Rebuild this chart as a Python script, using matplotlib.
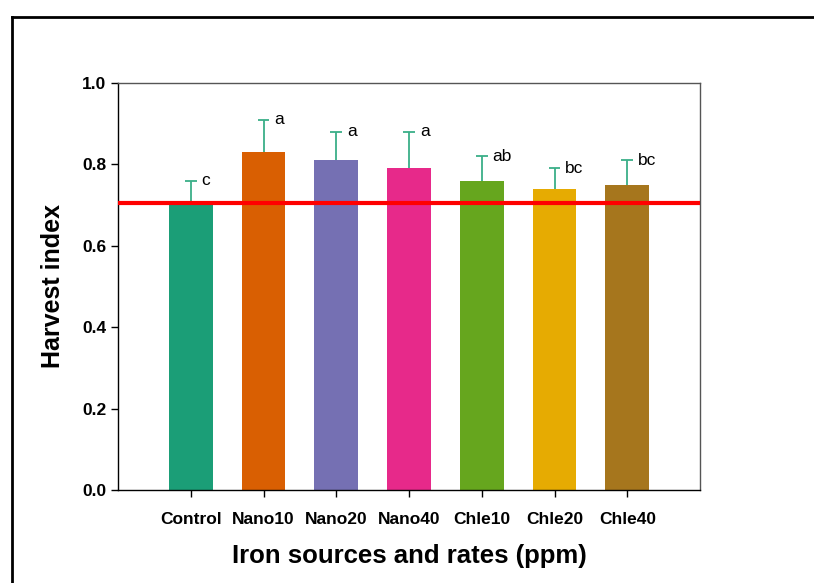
import matplotlib
matplotlib.use("Agg")
import matplotlib.pyplot as plt
from matplotlib.lines import Line2D

plt.rcParams["font.family"] = ["Liberation Sans", "DejaVu Sans"]

# data
treatments = ["Control", "Nano10", "Nano20", "Nano40", "Chle10", "Chle20", "Chle40"]
harvest_index = [0.71, 0.83, 0.81, 0.79, 0.76, 0.74, 0.75]
errors = [0.05, 0.08, 0.07, 0.09, 0.06, 0.05, 0.06]
letters = ["c", "a", "a", "a", "ab", "bc", "bc"]
bar_colors = ["#1b9e77", "#d95f02", "#7570b3", "#e7298a", "#66a61e", "#e6ab02", "#a6761d"]
ref_line = 0.705

fig = plt.figure(figsize=(8.14, 5.83), dpi=100)
ax = fig.add_axes([118 / 814, 1 - 490 / 583, 582 / 814, 407 / 583])

x = list(range(len(treatments)))
ax.bar(x, harvest_index, width=0.6, color=bar_colors, zorder=2)

# upper error bars only, cap only on top
tops = [v + e for v, e in zip(harvest_index, errors)]
ax.vlines(x, harvest_index, tops, color="#3aaf88", linewidth=1.3, zorder=3)
ax.hlines(tops, [xi - 0.08 for xi in x], [xi + 0.08 for xi in x],
          color="#3aaf88", linewidth=1.3, zorder=3)

for xi, t, lab in zip(x, tops, letters):
    ax.text(xi + 0.15, t, lab, fontsize=12.5, ha="left", va="center")

ax.axhline(ref_line, color="#ff0000", linewidth=3, zorder=4)

ax.set_xlim(-1, 7)
ax.set_ylim(0, 1.0)
ax.set_yticks([0.0, 0.2, 0.4, 0.6, 0.8, 1.0])
ax.set_yticklabels(["0.0", "0.2", "0.4", "0.6", "0.8", "1.0"], fontweight="bold", fontsize=12.5)
ax.set_xticks(x)
ax.set_xticklabels(treatments, fontweight="bold", fontsize=12.5)
ax.tick_params(axis="both", direction="out", length=5, width=1)
ax.tick_params(axis="x", pad=11)

for s in ax.spines.values():
    s.set_linewidth(1)
ax.spines["top"].set_color("#555555")
ax.spines["right"].set_color("#555555")

ax.set_ylabel("Harvest index", fontsize=18, fontweight="bold", labelpad=12)
ax.set_xlabel("Iron sources and rates (ppm)", fontsize=18.5, fontweight="bold", labelpad=12)

# frame of the original figure (left and top edges only visible)
fig.add_artist(Line2D([12 / 814, 12 / 814], [0, 1 - 17 / 583], transform=fig.transFigure,
                      color="black", linewidth=2))
fig.add_artist(Line2D([12 / 814, 1], [1 - 17 / 583, 1 - 17 / 583], transform=fig.transFigure,
                      color="black", linewidth=2))

fig.savefig("out.png", dpi=100, facecolor="white")
